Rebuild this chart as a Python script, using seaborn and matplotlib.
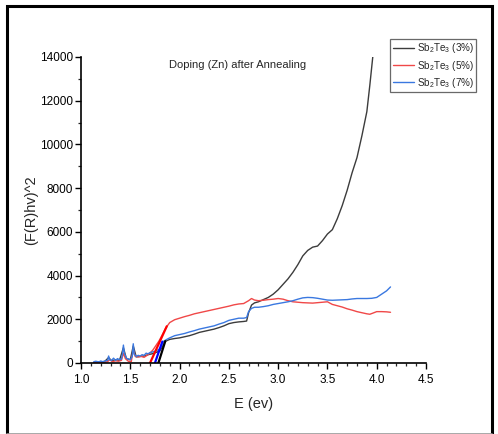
import matplotlib
matplotlib.use("Agg")
import matplotlib.pyplot as plt
import seaborn as sns
import pandas as pd
from matplotlib.patches import Rectangle
from matplotlib.lines import Line2D
from matplotlib.ticker import MultipleLocator

# Sb2Te3 doped with Zn, annealed: (F(R)hv)^2 versus photon energy
E_3 = [1.13, 1.16, 1.2, 1.24, 1.28, 1.31, 1.35, 1.39, 1.43, 1.46, 1.5, 1.53, 1.56, 1.6,
       1.64, 1.68, 1.72, 1.76, 1.8, 1.83, 1.86, 1.9, 1.95, 2.0, 2.05, 2.1, 2.15, 2.2, 2.25,
       2.3, 2.35, 2.4, 2.45, 2.5, 2.55, 2.6, 2.65, 2.68, 2.7, 2.73, 2.76, 2.8, 2.85, 2.9,
       2.95, 3.0, 3.05, 3.1, 3.15, 3.2, 3.25, 3.3, 3.35, 3.4, 3.45, 3.5, 3.55, 3.6, 3.65,
       3.7, 3.75, 3.8, 3.85, 3.9, 3.93, 3.96]
F_3 = [30, 50, 40, 70, 250, 100, 150, 120, 700, 200, 150, 780, 280, 300, 320, 380, 420,
       480, 550, 800, 1000, 1080, 1120, 1150, 1200, 1250, 1320, 1400, 1450, 1500, 1550,
       1620, 1700, 1800, 1850, 1880, 1900, 1920, 2300, 2650, 2750, 2800, 2900, 3000, 3150,
       3350, 3600, 3850, 4150, 4500, 4900, 5150, 5300, 5350, 5600, 5900, 6100, 6600, 7200,
       7900, 8700, 9400, 10400, 11500, 12700, 14000]

E_5 = [1.13, 1.16, 1.2, 1.24, 1.27, 1.29, 1.32, 1.35, 1.38, 1.41, 1.43, 1.45, 1.48, 1.51,
       1.53, 1.55, 1.58, 1.61, 1.64, 1.67, 1.7, 1.73, 1.76, 1.79, 1.82, 1.86, 1.9, 1.95,
       2.0, 2.05, 2.1, 2.15, 2.2, 2.25, 2.3, 2.35, 2.4, 2.45, 2.5, 2.55, 2.6, 2.65, 2.7,
       2.73, 2.76, 2.8, 2.85, 2.9, 2.95, 3.0, 3.05, 3.1, 3.15, 3.2, 3.25, 3.3, 3.35, 3.4,
       3.45, 3.5, 3.55, 3.6, 3.65, 3.7, 3.75, 3.8, 3.85, 3.9, 3.93, 3.96, 4.0, 4.05, 4.1, 4.14]
F_5 = [20, 30, 10, 40, 60, 150, 60, 100, 80, 120, 450, 200, 80, 60, 620, 300, 280, 300,
       260, 350, 450, 600, 800, 1000, 1250, 1600, 1850, 1980, 2050, 2120, 2180, 2250, 2300,
       2350, 2400, 2450, 2500, 2550, 2600, 2660, 2700, 2720, 2850, 2950, 2880, 2850, 2870,
       2900, 2920, 2950, 2920, 2850, 2800, 2780, 2760, 2750, 2740, 2760, 2780, 2800, 2680,
       2620, 2560, 2480, 2420, 2350, 2300, 2250, 2230, 2280, 2350, 2350, 2340, 2320]

E_7 = [1.13, 1.15, 1.18, 1.2, 1.22, 1.25, 1.27, 1.28, 1.29, 1.31, 1.33, 1.35, 1.37, 1.39,
       1.41, 1.42, 1.43, 1.44, 1.46, 1.48, 1.5, 1.52, 1.53, 1.54, 1.56, 1.58, 1.6, 1.62,
       1.64, 1.66, 1.68, 1.7, 1.72, 1.74, 1.76, 1.78, 1.8, 1.82, 1.84, 1.87, 1.9, 1.95, 2.0,
       2.05, 2.1, 2.15, 2.2, 2.25, 2.3, 2.35, 2.4, 2.45, 2.5, 2.55, 2.6, 2.65, 2.68, 2.7,
       2.73, 2.76, 2.8, 2.85, 2.9, 2.95, 3.0, 3.05, 3.1, 3.15, 3.2, 3.25, 3.3, 3.35, 3.4,
       3.45, 3.5, 3.55, 3.6, 3.65, 3.7, 3.75, 3.8, 3.85, 3.9, 3.95, 4.0, 4.05, 4.1, 4.14]
F_7 = [60, 80, 50, 90, 60, 100, 120, 320, 150, 120, 220, 120, 200, 150, 180, 400, 820,
       450, 220, 180, 150, 300, 880, 400, 300, 350, 320, 380, 350, 450, 420, 480, 500, 520,
       550, 600, 650, 800, 1000, 1080, 1150, 1250, 1300, 1350, 1420, 1480, 1550, 1600,
       1650, 1700, 1780, 1850, 1950, 2000, 2050, 2050, 2080, 2350, 2500, 2550, 2550, 2580,
       2620, 2680, 2720, 2760, 2800, 2850, 2920, 2980, 3000, 2990, 2960, 2920, 2880, 2870,
       2880, 2890, 2900, 2930, 2950, 2950, 2950, 2960, 3000, 3150, 3300, 3480]

# Linear extrapolations of the absorption edges to the energy axis
TAN_E_3 = [1.785, 1.855]
TAN_F_3 = [0, 1000]
TAN_E_5 = [1.70, 1.87]
TAN_F_5 = [0, 1680]
TAN_E_7 = [1.75, 1.825]
TAN_F_7 = [0, 980]

LABELS = ["Sb$_2$Te$_3$ (3%)", "Sb$_2$Te$_3$ (5%)", "Sb$_2$Te$_3$ (7%)"]
TITLE = "Doping (Zn) after Annealing"

sns.set_style("ticks")
plt.rcParams["font.family"] = ["Liberation Sans", "DejaVu Sans"]
plt.rcParams["mathtext.fontset"] = "custom"
plt.rcParams["mathtext.rm"] = "Liberation Sans"
plt.rcParams["mathtext.it"] = "Liberation Sans:italic"

fig = plt.figure(figsize=(4.98, 4.34), dpi=100)
ax = fig.add_axes([0.1627, 0.1636, 0.6927, 0.7051])

curves = [
    (E_3, F_3, "#3c3c3c", LABELS[0]),
    (E_5, F_5, "#f04848", LABELS[1]),
    (E_7, F_7, "#3a78e0", LABELS[2]),
]
for e, f, c, lab in curves:
    df = pd.DataFrame({"E": e, "F": f})
    sns.lineplot(data=df, x="E", y="F", ax=ax, color=c, lw=1.0, label=lab,
                 estimator=None, sort=False)

tangents = [
    (TAN_E_5, TAN_F_5, "#ff0000"),
    (TAN_E_7, TAN_F_7, "#0000ff"),
    (TAN_E_3, TAN_F_3, "#000000"),
]
for e, f, c in tangents:
    sns.lineplot(x=e, y=f, ax=ax, color=c, lw=1.6, estimator=None, sort=False)

ax.set_xlim(1.0, 4.5)
ax.set_ylim(0, 14000)
ax.xaxis.set_major_locator(MultipleLocator(0.5))
ax.xaxis.set_minor_locator(MultipleLocator(0.1))
ax.yaxis.set_major_locator(MultipleLocator(2000))
ax.yaxis.set_minor_locator(MultipleLocator(1000))
ax.set_xticklabels([f"{v:.1f}" for v in ax.get_xticks()])
ax.tick_params(axis="both", which="major", direction="out", length=4, width=1,
               labelsize=8.5, colors="black")
ax.tick_params(axis="x", which="major", pad=4)
ax.tick_params(axis="y", which="major", pad=2)
ax.tick_params(axis="both", which="minor", direction="out", length=2.5, width=0.9)
for s in ["top", "right"]:
    ax.spines[s].set_visible(False)
for s in ["left", "bottom"]:
    ax.spines[s].set_linewidth(1.2)
    ax.spines[s].set_color("black")

ax.set_xlabel("E (ev)", fontsize=10.5, labelpad=8)
ax.set_ylabel("(F(R)hv)^2", fontsize=10.5, labelpad=1)
ax.text(0.455, 0.975, TITLE, transform=ax.transAxes, ha="center", va="center",
        fontsize=8)

leg = ax.legend(loc="upper left", bbox_to_anchor=(0.896, 1.059), borderaxespad=0,
                fontsize=7.1, frameon=True, fancybox=False, handlelength=2.2,
                handletextpad=0.25, labelspacing=0.32, borderpad=0.25)
leg.get_frame().set_edgecolor("#444444")
leg.get_frame().set_linewidth(0.9)

# Outer frame around the whole figure
fig.patches.append(Rectangle((6.5 / 498, -0.02), (491.5 - 6.5) / 498, 1 - 6 / 434 + 0.02,
                             transform=fig.transFigure, fill=False, edgecolor="black",
                             lw=2.2, zorder=10))
fig.lines.append(Line2D([6.5 / 498, 491.5 / 498], [0.5 / 434, 0.5 / 434],
                        transform=fig.transFigure, color="#999999", lw=1.2, zorder=11))

fig.savefig("out.png", dpi=100)
